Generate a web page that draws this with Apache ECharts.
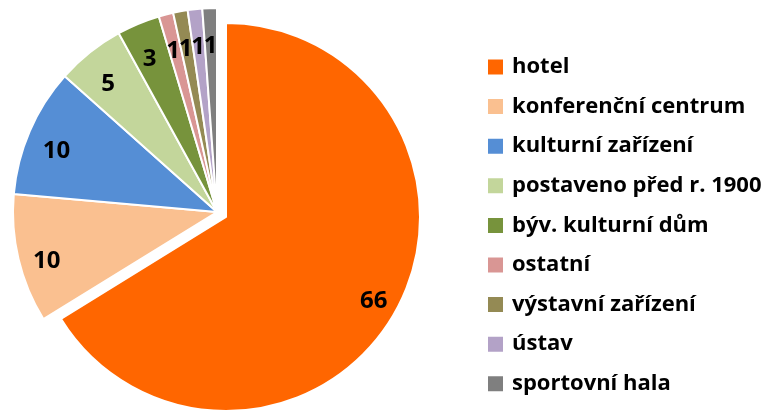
<!DOCTYPE html>
<html>
<head>
<meta charset="utf-8">
<script src="https://cdn.jsdelivr.net/npm/echarts@6/dist/echarts.min.js"></script>
<style>
  html, body { margin: 0; padding: 0; background: #fff; }
  #main { width: 775px; height: 411px; }
</style>
</head>
<body>
<div id="main"></div>
<script>
// kategorie a hodnoty (podíly v %, popisky zaokrouhlené)
var names = ['hotel', 'konferenční centrum', 'kulturní zařízení', 'postaveno před r. 1900',
    'býv. kulturní dům', 'ostatní', 'výstavní zařízení', 'ústav', 'sportovní hala'];
var values = [66.2, 10.2, 10.2, 5.4, 3.4, 1.15, 1.15, 1.15, 1.15];
var colors = ['#FF6600', '#FAC090', '#558ED5', '#C3D69B', '#77933C', '#D99694', '#948A54', '#B3A2C7', '#7F7F7F'];

var chartDom = document.getElementById('main');
var myChart = echarts.init(chartDom, null, { renderer: 'canvas' });
var font = '"Open Sans"';
var none = 'rgba(0,0,0,0)';

// vysunutý hotel (vlastní kruh, menší poloměr)
var hotelData = names.map(function (n, i) {
    if (i === 0) return { name: n, value: values[i], itemStyle: { color: colors[i] } };
    return { name: '_' + n, value: values[i], itemStyle: { color: none, borderWidth: 0 } };
});
// ostatní výseče
var restData = names.map(function (n, i) {
    if (i === 0) return { name: '_' + n, value: values[i], itemStyle: { color: none, borderWidth: 0 } };
    return { name: n, value: values[i], itemStyle: { color: colors[i] } };
});
// jen popisky (hotel trochu posunutý, je vysunutý)
var labelData = names.map(function (n, i) {
    var d = { name: '~' + n, value: values[i] };
    if (i === 0) d.label = { offset: [4, -5] };
    return d;
});

var option = {
    animation: false,
    legend: {
        orient: 'vertical',
        left: 486,
        top: 56,
        padding: 0,
        itemWidth: 17,
        itemHeight: 17,
        itemGap: 17.6,
        icon: 'rect',
        selectedMode: false,
        data: names,
        textStyle: {
            fontFamily: font,
            fontWeight: 'bold',
            fontSize: 22,
            lineHeight: 20,
            padding: [0, 0, 0, 3],
            color: '#000'
        }
    },
    series: [
        {
            type: 'pie',
            center: [226, 217],
            radius: 194,
            startAngle: 90,
            clockwise: true,
            silent: true,
            label: { show: false },
            labelLine: { show: false },
            itemStyle: { borderColor: '#fff', borderWidth: 2 },
            data: hotelData
        },
        {
            type: 'pie',
            center: [217, 212],
            radius: 204,
            startAngle: 90,
            clockwise: true,
            silent: true,
            label: { show: false },
            labelLine: { show: false },
            itemStyle: { borderColor: '#fff', borderWidth: 2 },
            data: restData
        },
        {
            type: 'pie',
            center: [217, 221],
            radius: [140, 204],
            startAngle: 90,
            clockwise: true,
            silent: true,
            avoidLabelOverlap: false,
            itemStyle: { color: none },
            labelLayout: { hideOverlap: false },
            label: {
                show: true,
                position: 'inside',
                fontFamily: font,
                fontWeight: 'bold',
                fontSize: 24,
                color: '#000',
                formatter: function (p) { return Math.round(p.value); }
            },
            labelLine: { show: false },
            data: labelData
        }
    ]
};
myChart.setOption(option);
</script>
</body>
</html>
